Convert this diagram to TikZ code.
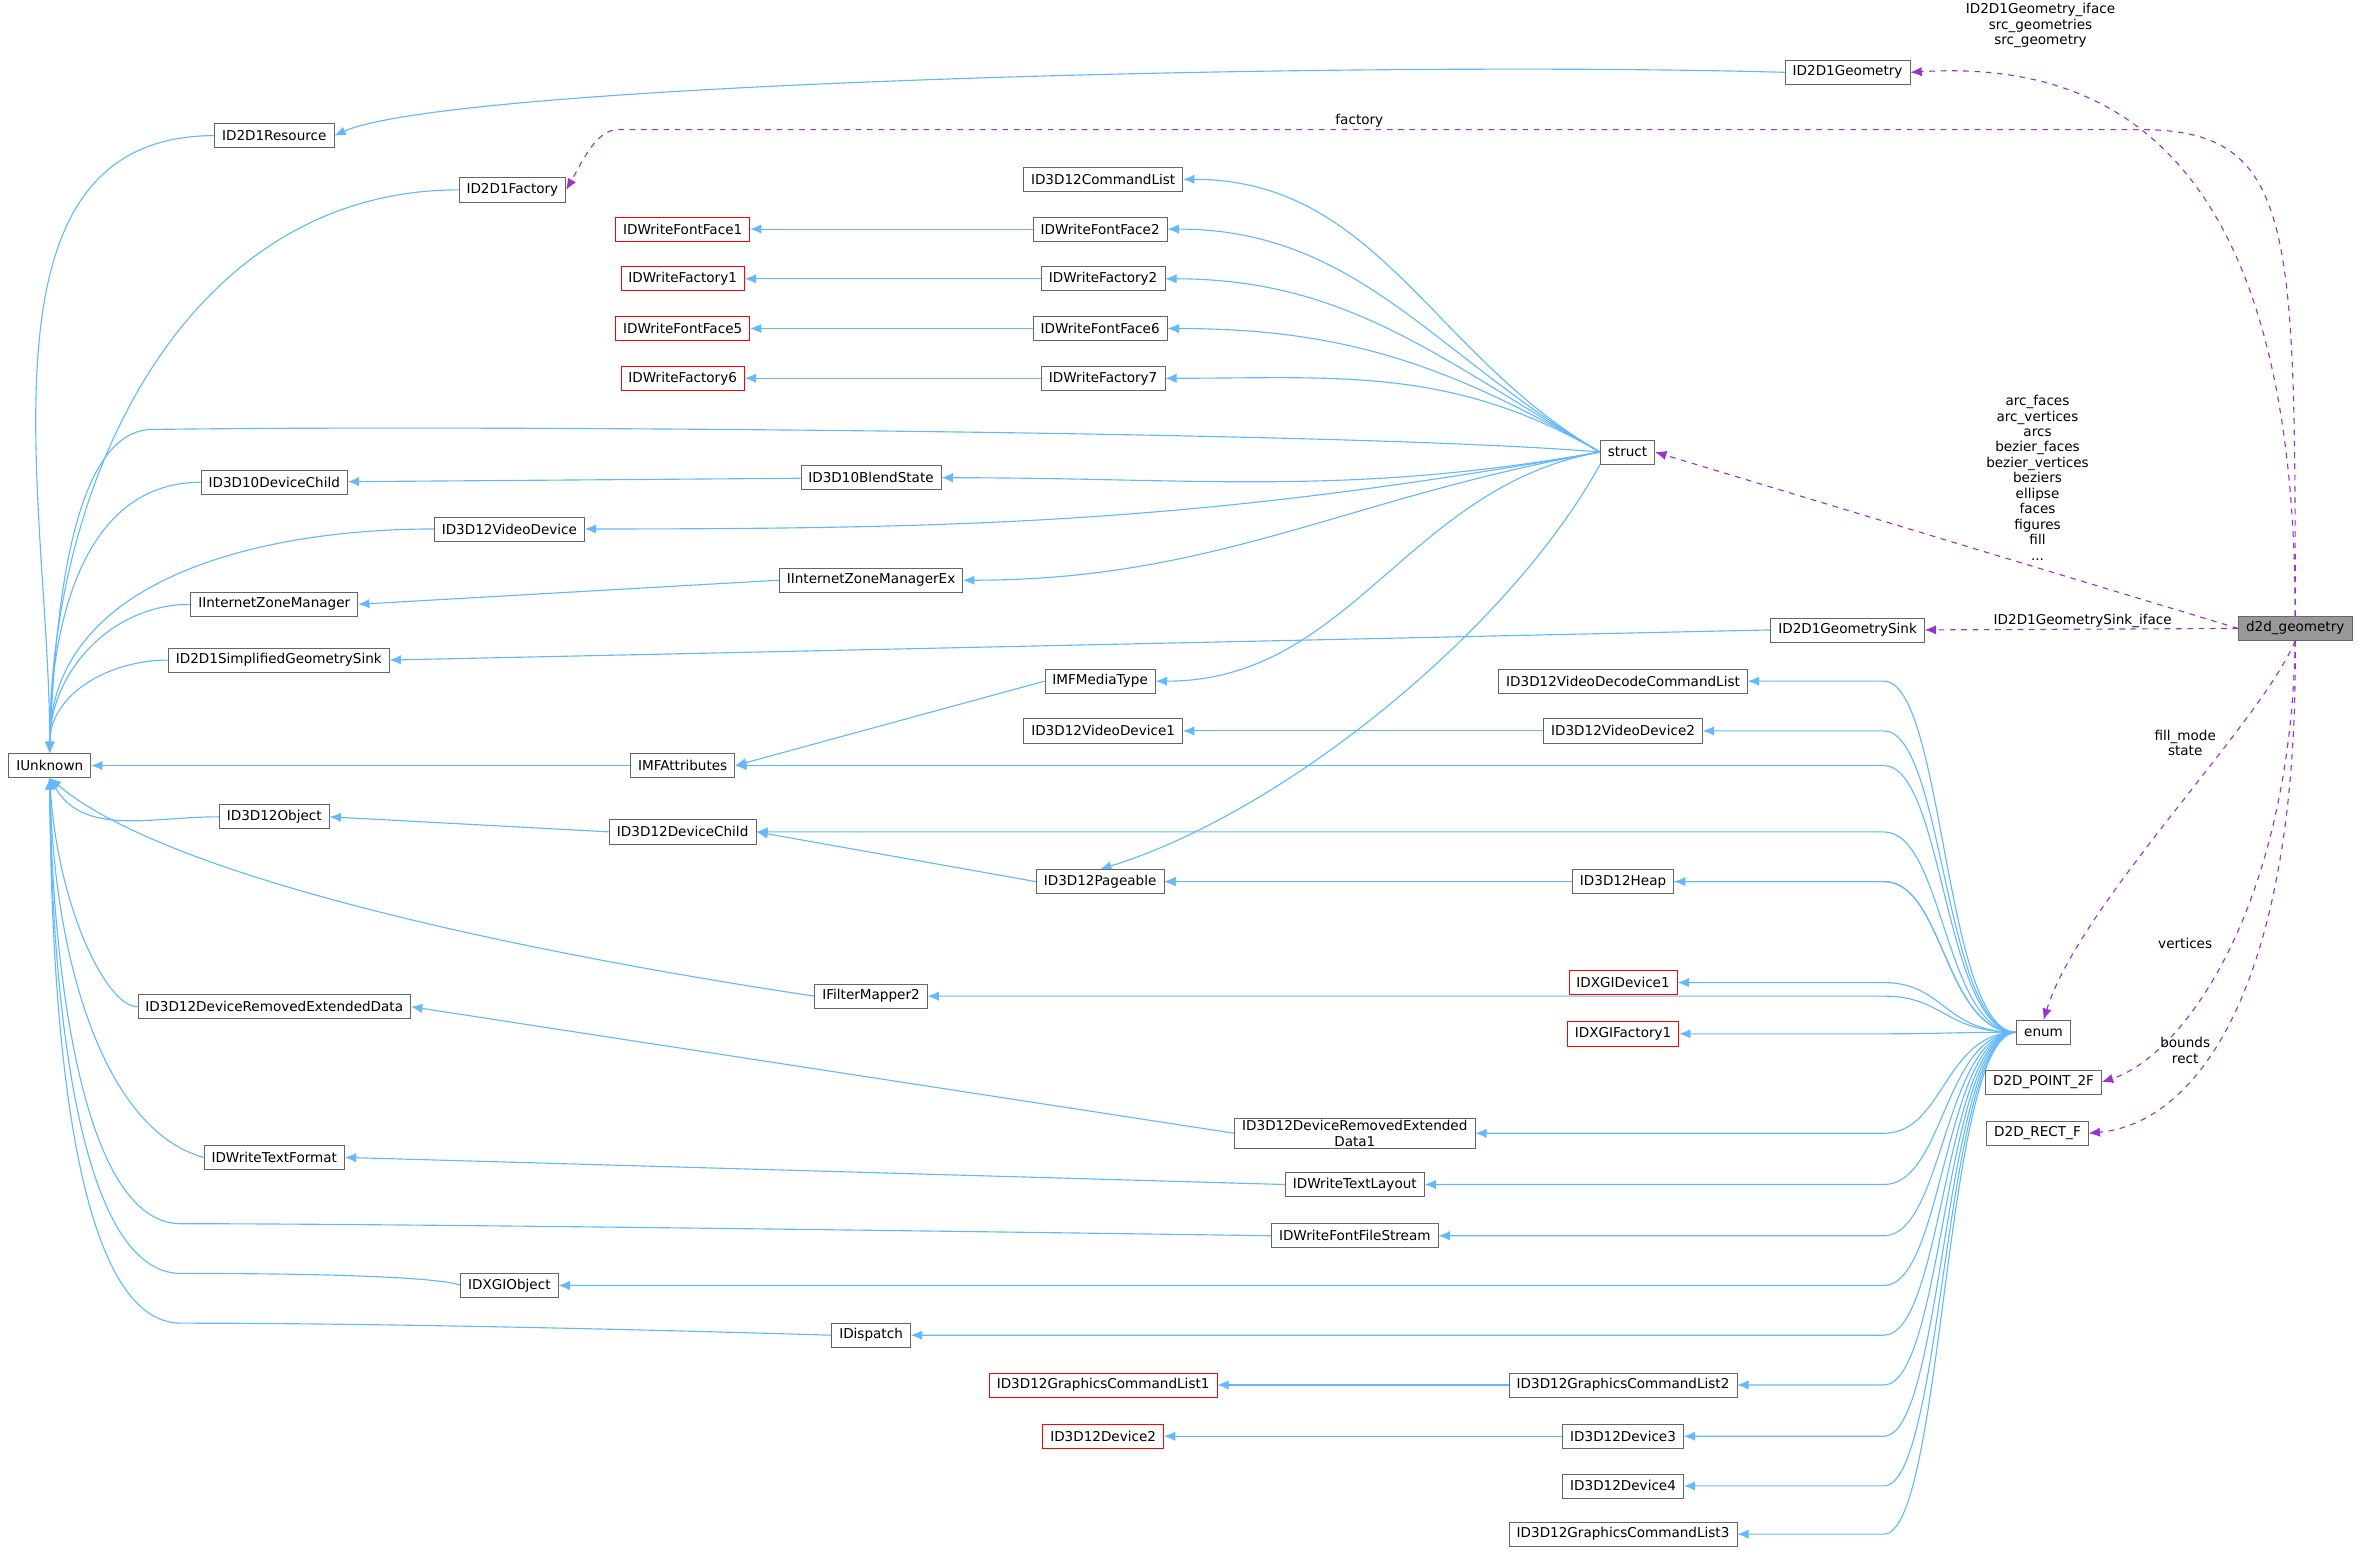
\documentclass[tikz,border=0pt]{standalone}
\usepackage{fontspec}
\setmainfont{DejaVu Sans}
\usetikzlibrary{arrows.meta}
\definecolor{eb}{RGB}{99,184,255}
\definecolor{ep}{RGB}{154,50,205}
\pgfdeclarelayer{bg}\pgfsetlayers{bg,main}
\begin{document}
\begin{tikzpicture}[x=0.8pt,y=-0.8pt,
  n/.style={draw=black!60,fill=white,rectangle,minimum height=12.8pt,inner xsep=4pt,inner ysep=1pt,font=\fontsize{7.2}{8.5}\selectfont},
  r/.style={n,draw=red},
  g/.style={n,fill=black!40},
  inh/.style={draw=eb,line width=0.6pt,-{Latex[length=6pt,width=5pt]}},
  col/.style={draw=ep,dashed,line width=0.6pt,-{Latex[length=6pt,width=5pt]}},
  lb/.style={font=\fontsize{7.2}{8.2}\selectfont,align=center,inner sep=0pt}]
\useasboundingbox (0,0) rectangle (1568,1035);
\node[n] (IU) at (33,508) {IUnknown};
\node[n] (RES) at (182,90) {ID2D1Resource};
\node[n] (FAC) at (340,126) {ID2D1Factory};
\node[n] (GEO) at (1226,48) {ID2D1Geometry};
\node[n] (CL) at (732,119) {ID3D12CommandList};
\node[r] (FF1) at (453,152) {IDWriteFontFace1};
\node[n] (FF2) at (730,152) {IDWriteFontFace2};
\node[r] (WF1) at (453,185) {IDWriteFactory1};
\node[n] (WF2) at (732,185) {IDWriteFactory2};
\node[r] (FF5) at (453,218) {IDWriteFontFace5};
\node[n] (FF6) at (730,218) {IDWriteFontFace6};
\node[r] (WF6) at (453,251) {IDWriteFactory6};
\node[n] (WF7) at (732,251) {IDWriteFactory7};
\node[n] (ST) at (1080,300) {struct};
\node[n] (DC10) at (182,320) {ID3D10DeviceChild};
\node[n] (BS) at (578,317) {ID3D10BlendState};
\node[n] (VD) at (338,351) {ID3D12VideoDevice};
\node[n] (IZM) at (182,401) {IInternetZoneManager};
\node[n] (IZX) at (578,385) {IInternetZoneManagerEx};
\node[n] (SGS) at (185,438) {ID2D1SimplifiedGeometrySink};
\node[n] (GS) at (1226,418) {ID2D1GeometrySink};
\node[g] (D2D) at (1523,417) {d2d\_geometry};
\node[n] (VDCL) at (1077,452) {ID3D12VideoDecodeCommandList};
\node[n] (MT) at (730,452) {IMFMediaType};
\node[n] (VD1) at (732,485) {ID3D12VideoDevice1};
\node[n] (VD2) at (1077,485) {ID3D12VideoDevice2};
\node[n] (MA) at (453,508) {IMFAttributes};
\node[n] (OBJ) at (182,542) {ID3D12Object};
\node[n] (DCH) at (453,552) {ID3D12DeviceChild};
\node[n] (PG) at (730,585) {ID3D12Pageable};
\node[n] (HP) at (1077,585) {ID3D12Heap};
\node[r] (XD1) at (1077,652) {IDXGIDevice1};
\node[r] (XF1) at (1077,686) {IDXGIFactory1};
\node[n] (FM) at (578,661) {IFilterMapper2};
\node[n] (EN) at (1356,685) {enum};
\node[n] (DRED) at (182,668) {ID3D12DeviceRemovedExtendedData};
\node[n] (PT) at (1356,718) {D2D\_POINT\_2F};
\node[n] (RC) at (1352,752) {D2D\_RECT\_F};
\node[n,align=center] (DRED1) at (899,752) {ID3D12DeviceRemovedExtended\\Data1};
\node[n] (TF) at (182,768) {IDWriteTextFormat};
\node[n] (TL) at (899,786) {IDWriteTextLayout};
\node[n] (FS) at (899,820) {IDWriteFontFileStream};
\node[n] (XO) at (338,853) {IDXGIObject};
\node[n] (DI) at (578,886) {IDispatch};
\node[r] (GC1) at (732,919) {ID3D12GraphicsCommandList1};
\node[n] (GC2) at (1077,919) {ID3D12GraphicsCommandList2};
\node[r] (DV2) at (732,953) {ID3D12Device2};
\node[n] (DV3) at (1077,953) {ID3D12Device3};
\node[n] (DV4) at (1077,986) {ID3D12Device4};
\node[n] (GC3) at (1077,1018) {ID3D12GraphicsCommandList3};
\begin{pgfonlayer}{bg}
% inheritance to IUnknown
\foreach \s in {RES,FAC,DC10,VD,IZM,SGS} \draw[inh] (\s.west) to[out=180,in=90] (IU.north);
\draw[inh] (MA.west) -- (IU.east);
\draw[inh] (OBJ.west) to[out=180,in=-60] (IU.south);
\draw[inh] (FM.west) .. controls (400,640) and (120,590) .. (IU.south);
\draw[inh] (DRED.west) .. controls (70,668) and (38,600) .. (IU.south);
\draw[inh] (TF.west) .. controls (70,750) and (36,640) .. (IU.south);
\foreach \s/\y in {FS/820,XO/853,DI/886}
  \draw[inh] (\s.west) .. controls (\s.west |- 0,\y) and (300,\y-8) .. (120,\y-8) .. controls (50,\y-8) and (34,\y-200) .. (IU.south);
\draw[inh] (ST.west) .. controls (900,286) and (300,282) .. (100,285) .. controls (45,287) and (36,420) .. (IU.north);
% simple
\draw[inh] (GEO.west) .. controls (900,40) and (300,55) .. (RES.east);
\draw[inh] (FF2) -- (FF1); \draw[inh] (WF2) -- (WF1);
\draw[inh] (FF6) -- (FF5); \draw[inh] (WF7) -- (WF6);
\draw[inh] (BS) -- (DC10);
\draw[inh] (IZX.west) -- (IZM.east);
\draw[inh] (GS.west) -- (SGS.east);
\draw[inh] (MT.west) -- (MA.east);
\draw[inh] (VD2) -- (VD1);
\draw[inh] (DCH.west) -- (OBJ.east);
\draw[inh] (PG.west) -- (DCH.east);
\draw[inh] (HP) -- (PG);
\draw[inh] (DRED1.west) -- (DRED.east);
\draw[inh] (TL.west) -- (TF.east);
\draw[inh] (GC2) -- (GC1);
\draw[inh] (DV3) -- (DV2);
% struct
\foreach \t in {CL,FF2,WF2,FF6,WF7} \draw[inh] (ST.west) to[out=150,in=0] (\t.east);
\foreach \t in {BS,VD,IZX,MT} \draw[inh] (ST.west) to[out=190,in=0] (\t.east);
\draw[inh] (ST.south west) .. controls (1000,420) and (850,540) .. (PG.north);
% enum
\foreach \t/\y in {VDCL/452,VD2/485,MA/508,DCH/552,HP/585,PG/585,XD1/652,XF1/686,FM/661,DRED1/752,TL/786,FS/820,XO/853,DI/886,GC2/919,DV3/953,DV4/986,GC3/1018}
  \draw[inh] (EN.west) .. controls (1290,685) and (1290,\y) .. (1250,\y) -- (\t.east);
% collaboration
\draw[col] (D2D.north) .. controls (1523,100) and (1400,40) .. (GEO.east);
\draw[col] (D2D.north) .. controls (1523,150) and (1523,86) .. (1420,86) -- (410,86) .. controls (395,86) and (385,110) .. (FAC.east);
\draw[col] (D2D.west) -- (ST.east);
\draw[col] (D2D.west) -- (GS.east);
\draw[col] (D2D.south) .. controls (1500,480) and (1380,600) .. (EN.north);
\draw[col] (D2D.south) .. controls (1520,600) and (1450,700) .. (PT.east);
\draw[col] (D2D.south) .. controls (1525,650) and (1460,745) .. (RC.east);
\end{pgfonlayer}
\node[lb] at (1354,17) {ID2D1Geometry\_iface\\src\_geometries\\src\_geometry};
\node[lb] at (902,80) {factory};
\node[lb] at (1352,317) {arc\_faces\\arc\_vertices\\arcs\\bezier\_faces\\bezier\_vertices\\beziers\\ellipse\\faces\\figures\\fill\\...};
\node[lb] at (1382,412) {ID2D1GeometrySink\_iface};
\node[lb] at (1450,493) {fill\_mode\\state};
\node[lb] at (1450,626) {vertices};
\node[lb] at (1450,697) {bounds\\rect};
\end{tikzpicture}
\end{document}
